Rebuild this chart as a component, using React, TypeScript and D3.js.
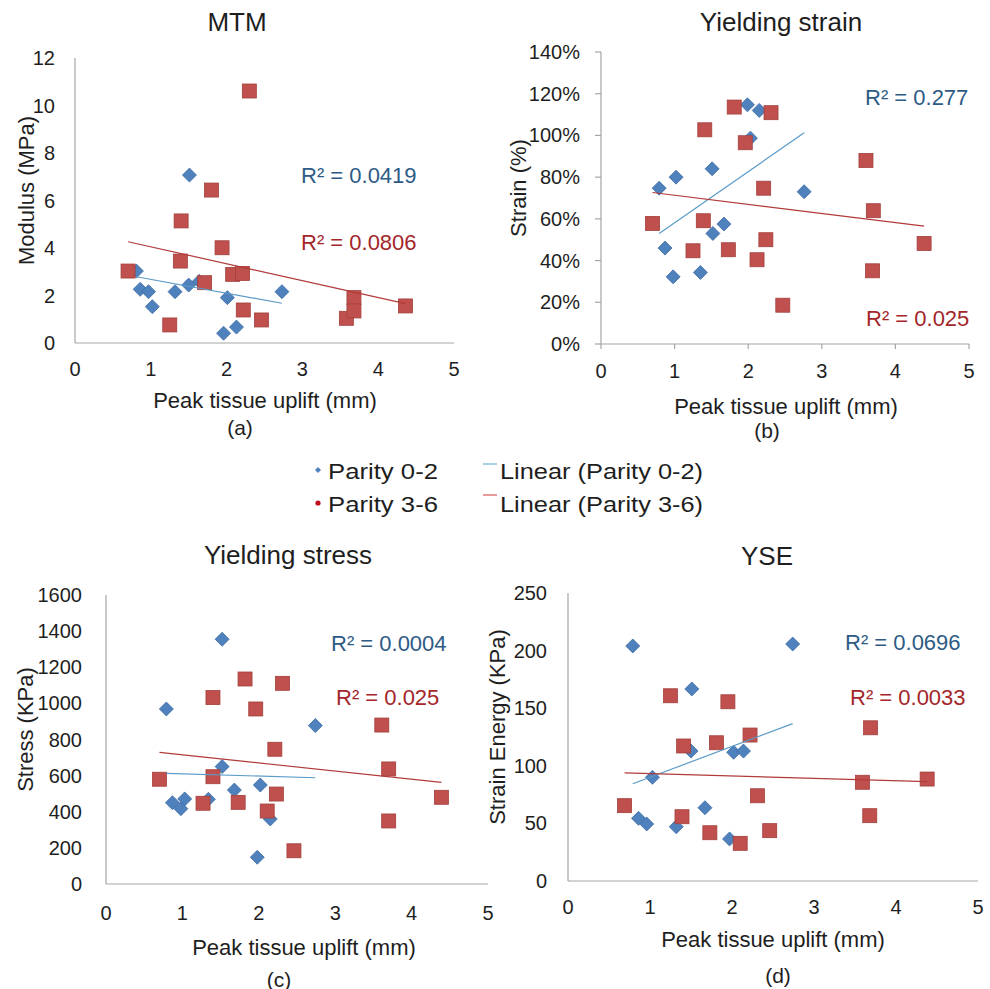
import React from "react";
import * as d3 from "d3";

type Pt = [number, number];

// Peak tissue uplift (mm) vs. each mechanical property, split by parity group
const mtmParity02: Pt[] = [
  [0.81, 3.03], [0.86, 2.26], [0.97, 2.16], [1.02, 1.53], [1.32, 2.16], [1.5, 2.44],
  [1.51, 7.07], [1.64, 2.6], [2.01, 1.91], [1.96, 0.41], [2.13, 0.67], [2.73, 2.16],
];
const mtmParity36: Pt[] = [
  [0.7, 3.03], [1.25, 0.76], [1.4, 5.14], [1.39, 3.45], [1.71, 2.54], [1.8, 6.44],
  [1.94, 4.01], [2.08, 2.89], [2.21, 2.93], [2.22, 1.39], [2.3, 10.61], [2.46, 0.97],
  [3.58, 1.04], [3.68, 1.91], [3.68, 1.35], [4.36, 1.56],
];
const strainParity02: Pt[] = [
  [0.79, 74.7], [0.87, 46], [0.98, 32.2], [1.02, 80], [1.35, 34.3], [1.51, 84],
  [1.52, 53], [1.67, 57.5], [1.99, 114.7], [2.03, 98.7], [2.15, 112], [2.76, 73],
];
const strainParity36: Pt[] = [
  [0.7, 57.8], [1.25, 44.7], [1.39, 59.1], [1.41, 102.7], [1.73, 45.2], [1.81, 113.6],
  [1.96, 96.5], [2.12, 40.4], [2.21, 74.7], [2.24, 50], [2.31, 110.9], [2.47, 18.6],
  [3.6, 88], [3.7, 63.9], [3.69, 35.1], [4.39, 48.2],
];
const stressParity02: Pt[] = [
  [0.79, 969], [0.87, 450], [0.98, 417], [1.03, 471], [1.34, 469], [1.52, 1355],
  [1.52, 650], [1.68, 520], [1.98, 148], [2.02, 548], [2.15, 360], [2.74, 877],
];
const stressParity36: Pt[] = [
  [0.7, 580], [1.27, 447], [1.4, 594], [1.4, 1032], [1.73, 452], [1.82, 1135],
  [1.96, 969], [2.11, 404], [2.21, 746], [2.23, 498], [2.31, 1111], [2.46, 184],
  [3.61, 880], [3.7, 637], [3.7, 349], [4.39, 480],
];
const yseParity02: Pt[] = [
  [0.79, 204], [0.86, 54.4], [0.96, 49.5], [1.03, 90], [1.32, 47.1], [1.51, 166.7],
  [1.5, 112.8], [1.67, 63.6], [1.97, 36.5], [2.02, 111.7], [2.14, 112.8], [2.74, 205.7],
];
const yseParity36: Pt[] = [
  [0.69, 65.4], [1.25, 160.8], [1.41, 117.2], [1.39, 55.8], [1.73, 41.9], [1.81, 120],
  [1.95, 155.6], [2.1, 32.7], [2.22, 126.7], [2.31, 74], [2.46, 43.7], [3.59, 85.7],
  [3.69, 133], [3.68, 56.7], [4.38, 88.5],
];

const panelTitles = ["MTM", "Yielding strain", "Yielding stress", "YSE"];
const yAxisTitles = ["Modulus (MPa)", "Strain (%)", "Stress (KPa)", "Strain Energy (KPa)"];
const panelLetters = ["(a)", "(b)", "(c)", "(d)"];
const r2Parity02 = ["R² = 0.0419", "R² = 0.277", "R² = 0.0004", "R² = 0.0696"];
const r2Parity36 = ["R² = 0.0806", "R² = 0.025", "R² = 0.025", "R² = 0.0033"];
const yMax = [12, 140, 1600, 250];
const yStep = [2, 20, 200, 50];
const xTicks = [0, 1, 2, 3, 4, 5];
const seriesNames = ["Parity 0-2", "Parity 3-6"];
const xAxisTitle = "Peak tissue uplift (mm)";

const series02 = [mtmParity02, strainParity02, stressParity02, yseParity02];
const series36 = [mtmParity36, strainParity36, stressParity36, yseParity36];

// Geometry of each panel
const layout = [
  { x0: 75, x1: 454, yTop: 58, yBot: 343, ticks: false, yLabRight: 55, yTitleX: 26,
    title: [237, 22], xTitle: [265, 400], xTickY: 369, letter: [240, 427],
    r2a: [301, 175], r2b: [301, 242], pct: false },
  { x0: 601, x1: 969, yTop: 52, yBot: 344, ticks: true, yLabRight: 580, yTitleX: 518,
    title: [781, 22], xTitle: [786, 406], xTickY: 371, letter: [767, 430],
    r2a: [865, 97], r2b: [866, 318], pct: true },
  { x0: 106, x1: 488, yTop: 595, yBot: 884, ticks: false, yLabRight: 82, yTitleX: 25,
    title: [288, 555], xTitle: [304, 947], xTickY: 913, letter: [279, 979],
    r2a: [331, 643], r2b: [336, 697], pct: false },
  { x0: 568, x1: 978, yTop: 593, yBot: 881, ticks: false, yLabRight: 547, yTitleX: 497,
    title: [767, 556], xTitle: [773, 939], xTickY: 907, letter: [778, 975],
    r2a: [845, 642], r2b: [850, 697], pct: false },
];

const FONT = "'Liberation Sans', Arial, sans-serif";
const TEXT = "#1e1e1e";
const AXIS = "#a6a6a6";
const BLUE = "#4f81bd";
const BLUE_EDGE = "#3c6ba3";
const RED = "#c0504d";
const RED_EDGE = "#a23f3c";
const BLUE_TREND = "#5a9bc8";
const RED_TREND = "#b23a3a";
const BLUE_R2 = "#2d5b86";
const RED_R2 = "#a3262b";

function fit(points: Pt[]) {
  const mx = d3.mean(points, (p) => p[0])!;
  const my = d3.mean(points, (p) => p[1])!;
  const sxy = d3.sum(points, (p) => (p[0] - mx) * (p[1] - my));
  const sxx = d3.sum(points, (p) => (p[0] - mx) ** 2);
  const slope = sxy / sxx;
  const intercept = my - slope * mx;
  const [lo, hi] = d3.extent(points, (p) => p[0]) as [number, number];
  return [
    [lo, intercept + slope * lo],
    [hi, intercept + slope * hi],
  ] as Pt[];
}

function Panel({ i }: { i: number }) {
  const L = layout[i];
  const x = d3.scaleLinear().domain([0, 5]).range([L.x0, L.x1]);
  const y = d3.scaleLinear().domain([0, yMax[i]]).range([L.yBot, L.yTop]);
  const yTicks = d3.range(0, yMax[i] + yStep[i] / 2, yStep[i]);
  const line = d3.line<Pt>().x((p) => x(p[0])).y((p) => y(p[1]));
  const t02 = fit(series02[i]);
  const t36 = fit(series36[i]);
  const yMid = (L.yTop + L.yBot) / 2 - 10;
  return (
    <g>
      <text x={L.title[0]} y={L.title[1]} fontSize={26} textAnchor="middle" dominantBaseline="central" fill={TEXT}>
        {panelTitles[i]}
      </text>
      {/* axes */}
      <line x1={L.x0} x2={L.x0} y1={L.yTop} y2={L.yBot} stroke={AXIS} strokeWidth={1.2} />
      <line x1={L.x0} x2={L.x1} y1={L.yBot} y2={L.yBot} stroke={AXIS} strokeWidth={1.2} />
      {L.ticks &&
        yTicks.map((t) => (
          <line key={"yt" + t} x1={L.x0 - 6} x2={L.x0} y1={y(t)} y2={y(t)} stroke={AXIS} strokeWidth={1.2} />
        ))}
      {L.ticks &&
        xTicks.map((t) => (
          <line key={"xt" + t} x1={x(t)} x2={x(t)} y1={L.yBot} y2={L.yBot + 5} stroke={AXIS} strokeWidth={1.2} />
        ))}
      {yTicks.map((t) => (
        <text key={"yl" + t} x={L.yLabRight} y={y(t)} fontSize={20} textAnchor="end" dominantBaseline="central" fill={TEXT}>
          {L.pct ? `${t}%` : t}
        </text>
      ))}
      {xTicks.map((t) => (
        <text key={"xl" + t} x={x(t)} y={L.xTickY} fontSize={20} textAnchor="middle" dominantBaseline="central" fill={TEXT}>
          {t}
        </text>
      ))}
      <text x={L.xTitle[0]} y={L.xTitle[1]} fontSize={22} textAnchor="middle" dominantBaseline="central" fill={TEXT}>
        {xAxisTitle}
      </text>
      <text x={L.letter[0]} y={L.letter[1]} fontSize={21} textAnchor="middle" dominantBaseline="central" fill={TEXT}>
        {panelLetters[i]}
      </text>
      <text
        transform={`translate(${L.yTitleX},${yMid}) rotate(-90)`}
        fontSize={22}
        textAnchor="middle"
        dominantBaseline="central"
        fill={TEXT}
      >
        {yAxisTitles[i]}
      </text>
      {/* markers */}
      {series02[i].map((p, k) => (
        <path
          key={"b" + k}
          d="M0,-7L7,0L0,7L-7,0Z"
          transform={`translate(${x(p[0])},${y(p[1])})`}
          fill={BLUE}
          stroke={BLUE_EDGE}
          strokeWidth={0.8}
        />
      ))}
      {series36[i].map((p, k) => (
        <rect
          key={"r" + k}
          x={x(p[0]) - 7}
          y={y(p[1]) - 7}
          width={14}
          height={14}
          fill={RED}
          stroke={RED_EDGE}
          strokeWidth={0.8}
        />
      ))}
      {/* linear trendlines */}
      <path d={line(t02)!} stroke={BLUE_TREND} strokeWidth={1.2} fill="none" />
      <path d={line(t36)!} stroke={RED_TREND} strokeWidth={1.2} fill="none" />
      <text x={L.r2a[0]} y={L.r2a[1]} fontSize={22} dominantBaseline="central" fill={BLUE_R2}>
        {r2Parity02[i]}
      </text>
      <text x={L.r2b[0]} y={L.r2b[1]} fontSize={22} dominantBaseline="central" fill={RED_R2}>
        {r2Parity36[i]}
      </text>
    </g>
  );
}

function Legend() {
  return (
    <g>
      <path d="M0,-3L3,0L0,3L-3,0Z" transform="translate(318,470)" fill={BLUE} />
      <circle cx={318} cy={503} r={2.6} fill="#c0101a" />
      <text x={328} y={471} fontSize={22} dominantBaseline="central" fill={TEXT} textLength={110} lengthAdjust="spacingAndGlyphs">
        {seriesNames[0]}
      </text>
      <text x={328} y={504} fontSize={22} dominantBaseline="central" fill={TEXT} textLength={110} lengthAdjust="spacingAndGlyphs">
        {seriesNames[1]}
      </text>
      <line x1={483} x2={497} y1={464} y2={464} stroke="#8cc0d6" strokeWidth={1.5} />
      <line x1={483} x2={497} y1={495} y2={495} stroke="#e07a7a" strokeWidth={1.5} />
      <text x={500} y={471} fontSize={22} dominantBaseline="central" fill={TEXT} textLength={203} lengthAdjust="spacingAndGlyphs">
        {`Linear (${seriesNames[0]})`}
      </text>
      <text x={500} y={504} fontSize={22} dominantBaseline="central" fill={TEXT} textLength={203} lengthAdjust="spacingAndGlyphs">
        {`Linear (${seriesNames[1]})`}
      </text>
    </g>
  );
}

export default function App() {
  return (
    <svg
      width={990}
      height={989}
      style={{ position: "absolute", left: 0, top: 0, background: "#fff" }}
      fontFamily={FONT}
    >
      <rect width={990} height={989} fill="#fff" />
      {[0, 1, 2, 3].map((i) => (
        <Panel key={i} i={i} />
      ))}
      <Legend />
    </svg>
  );
}
